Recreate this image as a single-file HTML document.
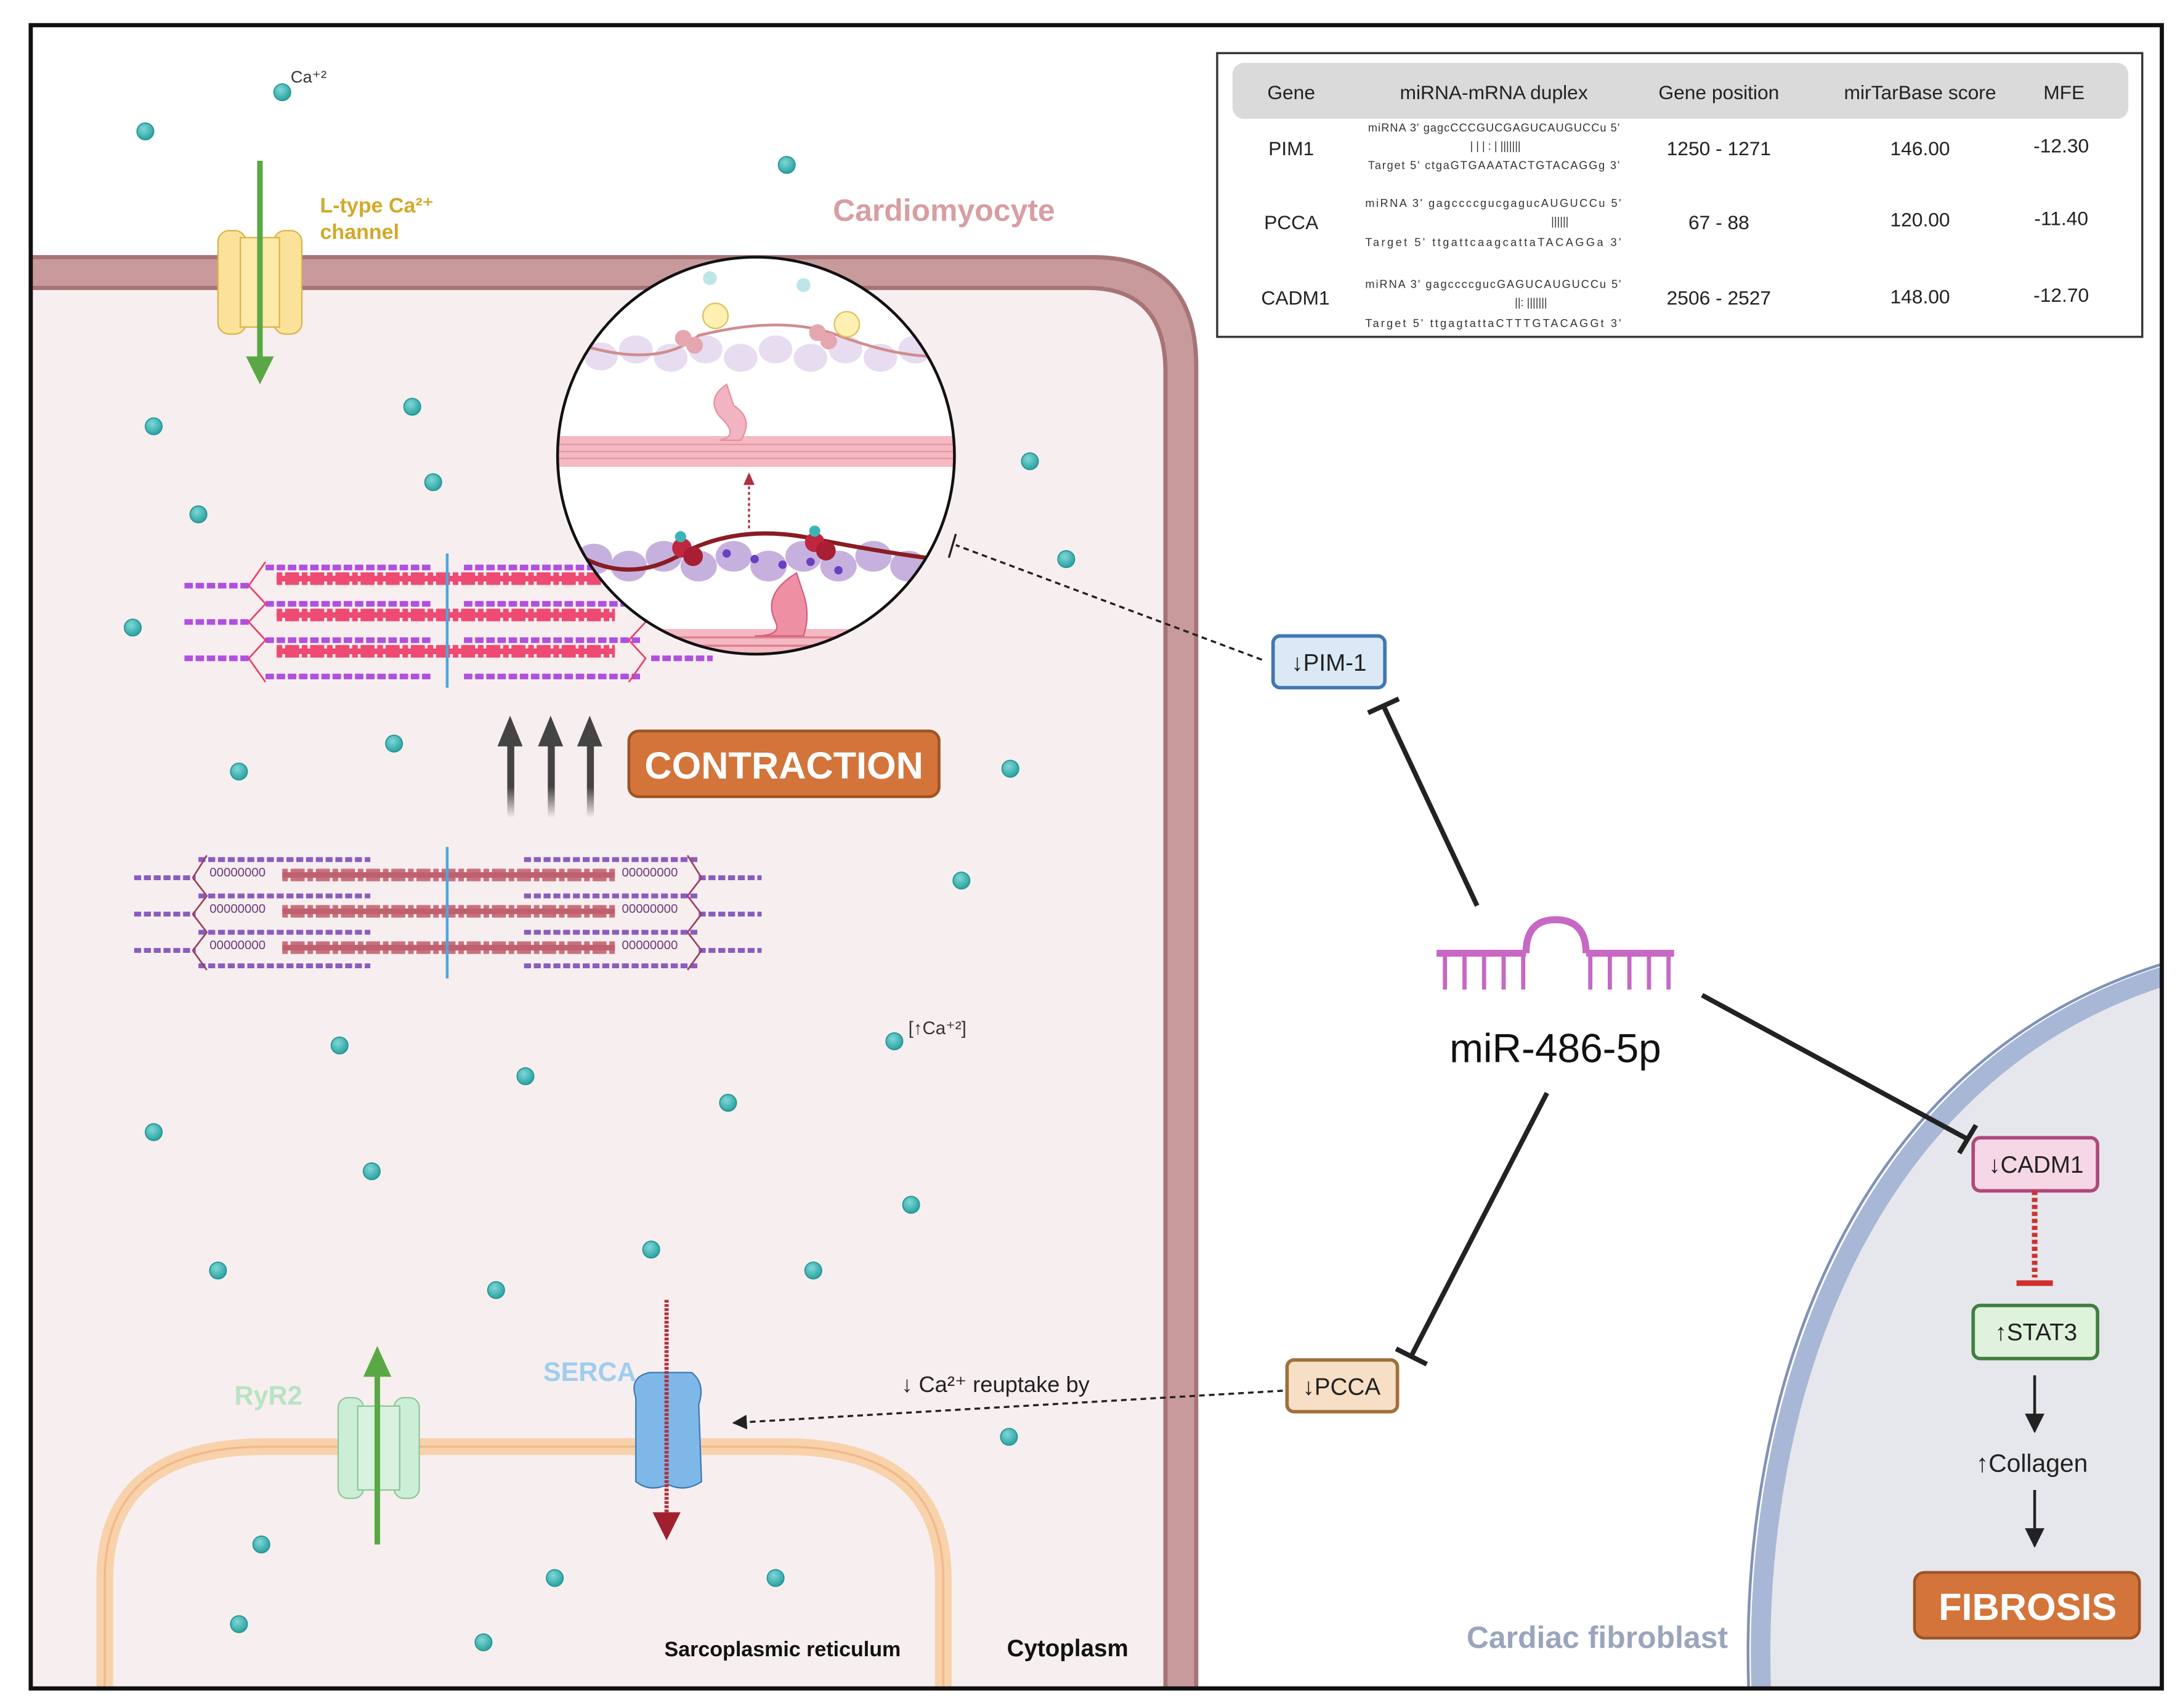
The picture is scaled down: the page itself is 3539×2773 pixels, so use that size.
<!DOCTYPE html>
<html><head><meta charset="utf-8"><style>
html,body{margin:0;padding:0;background:#fff}
svg{display:block}
text{font-family:"Liberation Sans",sans-serif}
</style></head><body>
<svg width="3539" height="2773" viewBox="0 0 1560 1222" preserveAspectRatio="none" xmlns="http://www.w3.org/2000/svg">
<defs>
<radialGradient id="dot" cx="40%" cy="35%" r="65%"><stop offset="0" stop-color="#7fd8d6"/><stop offset="1" stop-color="#2aa3a3"/></radialGradient>
<linearGradient id="arrG" x1="0" y1="1" x2="0" y2="0"><stop offset="0" stop-color="#444" stop-opacity="0"/><stop offset="0.4" stop-color="#444"/><stop offset="1" stop-color="#444"/></linearGradient>
<clipPath id="frame"><rect x="22" y="18" width="1525" height="1190"/></clipPath>
<clipPath id="circ"><circle cx="541" cy="326" r="142"/></clipPath>
<marker id="ah" viewBox="0 0 10 10" refX="9" refY="5" markerWidth="7" markerHeight="7" orient="auto"><path d="M0,0 L10,5 L0,10 z" fill="#222"/></marker>
</defs>
<rect width="1560" height="1222" fill="#fff"/>
<g clip-path="url(#frame)">
<path d="M0,195 H780 Q845,195 845,265 V1240 H0 Z" fill="#f7eeef" stroke="#c99a9c" stroke-width="22"/>
<path d="M0,206 H778 Q834,206 834,266 V1240" fill="none" stroke="#a77476" stroke-width="3"/>
<path d="M0,184 H782 Q856,184 856,262 V1240" fill="none" stroke="#a77476" stroke-width="3"/>
<path d="M75,1215 V1130 Q75,1035 190,1035 H560 Q675,1035 675,1130 V1215" fill="#f7eeef" stroke="#f8d2aa" stroke-width="12"/>
<path d="M75,1215 V1130 Q75,1035 190,1035 H560 Q675,1035 675,1130 V1215" fill="none" stroke="#f2b98a" stroke-width="1.5"/>
<path d="M1262,1240 C1245,1010 1330,760 1560,695 V1240 Z" fill="#e6e7ec" stroke="#a8b7d6" stroke-width="14"/>
<path d="M1253,1240 C1236,1005 1322,752 1560,686" fill="none" stroke="#8092b8" stroke-width="2"/>
</g>
<rect x="22" y="18" width="1525" height="1190" fill="none" stroke="#111" stroke-width="3"/>

<rect x="156" y="165" width="20" height="74" rx="8" fill="#fbe29a" stroke="#d9b54a"/>
<rect x="196" y="165" width="20" height="74" rx="8" fill="#fbe29a" stroke="#d9b54a"/>
<rect x="172" y="170" width="28" height="64" fill="#fde9a8" stroke="#d9b54a"/>
<line x1="186" y1="115" x2="186" y2="260" stroke="#5aa845" stroke-width="4"/>
<path d="M176,255 L196,255 L186,275 Z" fill="#5aa845"/>
<text x="229" y="152" font-size="15" font-weight="bold" fill="#d4a82a">L-type Ca²⁺</text>
<text x="229" y="171" font-size="15" font-weight="bold" fill="#d4a82a">channel</text>
<text x="208" y="59" font-size="12" fill="#333">Ca⁺²</text>
<text x="596" y="158" font-size="22" font-weight="bold" fill="#d79ea3">Cardiomyocyte</text>

<g>
<g stroke="#b04fe0" stroke-width="4" stroke-dasharray="6 2">
<line x1="190" y1="406" x2="310" y2="406"/><line x1="332" y1="406" x2="460" y2="406"/>
<line x1="190" y1="432" x2="310" y2="432"/><line x1="332" y1="432" x2="460" y2="432"/>
<line x1="190" y1="458" x2="310" y2="458"/><line x1="332" y1="458" x2="460" y2="458"/>
<line x1="190" y1="484" x2="310" y2="484"/><line x1="332" y1="484" x2="460" y2="484"/>
<line x1="132" y1="419" x2="178" y2="419"/><line x1="132" y1="445" x2="178" y2="445"/><line x1="132" y1="471" x2="178" y2="471"/>
<line x1="466" y1="471" x2="510" y2="471"/>
</g>
<path d="M190,402 L178,419 L190,432 L178,445 L190,458 L178,471 L190,488 M450,402 L462,419 L450,432 L462,445 L450,458 L462,471 L450,488" fill="none" stroke="#e8406a" stroke-width="1.2"/>
<g stroke="#ee4a72" stroke-width="9" stroke-dasharray="4 2 10 2"><line x1="198" y1="414" x2="440" y2="414"/><line x1="198" y1="440" x2="440" y2="440"/><line x1="198" y1="466" x2="440" y2="466"/></g>
<g stroke="#ee4a72" stroke-width="4"><line x1="198" y1="414" x2="440" y2="414"/><line x1="198" y1="440" x2="440" y2="440"/><line x1="198" y1="466" x2="440" y2="466"/></g>
<line x1="320" y1="396" x2="320" y2="492" stroke="#4aa8dc" stroke-width="2"/>
</g>

<g>
<g stroke="#8a5cc0" stroke-width="3.5" stroke-dasharray="5 2">
<line x1="142" y1="615" x2="265" y2="615"/><line x1="375" y1="615" x2="500" y2="615"/>
<line x1="142" y1="641" x2="265" y2="641"/><line x1="375" y1="641" x2="500" y2="641"/>
<line x1="142" y1="667" x2="265" y2="667"/><line x1="375" y1="667" x2="500" y2="667"/>
<line x1="142" y1="691" x2="265" y2="691"/><line x1="375" y1="691" x2="500" y2="691"/>
<line x1="96" y1="628" x2="140" y2="628"/><line x1="96" y1="654" x2="140" y2="654"/><line x1="96" y1="680" x2="140" y2="680"/>
<line x1="500" y1="628" x2="545" y2="628"/><line x1="500" y1="654" x2="545" y2="654"/><line x1="500" y1="680" x2="545" y2="680"/>
</g>
<path d="M148,612 L138,628 L148,641 L138,654 L148,667 L138,680 L148,694 M492,612 L502,628 L492,641 L502,654 L492,667 L502,680 L492,694" fill="none" stroke="#9b4060" stroke-width="1.2"/>
<g font-size="9" fill="#6a3b7a" font-family="Liberation Mono,monospace"><text x="150" y="627">00000000</text><text x="150" y="653">00000000</text><text x="150" y="679">00000000</text><text x="445" y="627">00000000</text><text x="445" y="653">00000000</text><text x="445" y="679">00000000</text></g>
<g stroke="#c9717e" stroke-width="9" stroke-dasharray="4 2 10 2"><line x1="202" y1="626" x2="440" y2="626"/><line x1="202" y1="652" x2="440" y2="652"/><line x1="202" y1="678" x2="440" y2="678"/></g>
<g stroke="#c0606f" stroke-width="4"><line x1="202" y1="626" x2="440" y2="626"/><line x1="202" y1="652" x2="440" y2="652"/><line x1="202" y1="678" x2="440" y2="678"/></g>
<line x1="320" y1="606" x2="320" y2="700" stroke="#4aa8dc" stroke-width="2"/>
</g>

<g>
<rect x="363" y="530" width="5" height="55" fill="url(#arrG)"/><path d="M356,534 L365,512 L374,534Z" fill="#444"/>
<rect x="392" y="530" width="5" height="55" fill="url(#arrG)"/><path d="M385,534 L394,512 L403,534Z" fill="#444"/>
<rect x="420" y="530" width="5" height="55" fill="url(#arrG)"/><path d="M413,534 L422,512 L431,534Z" fill="#444"/>
</g>
<rect x="450" y="523" width="222" height="47" rx="7" fill="#d3743a" stroke="#9c5324" stroke-width="2"/>
<text x="561" y="557" font-size="27" font-weight="bold" fill="#fff" text-anchor="middle">CONTRACTION</text>

<circle cx="541" cy="326" r="142" fill="#fff"/>
<g clip-path="url(#circ)">
<rect x="395" y="312" width="300" height="22" fill="#f4b9c2"/>
<g stroke="#e796a3" stroke-width="1"><line x1="395" y1="318" x2="700" y2="318"/><line x1="395" y1="323" x2="700" y2="323"/><line x1="395" y1="328" x2="700" y2="328"/></g>
<rect x="395" y="450" width="300" height="30" fill="#f4b9c2"/>
<g stroke="#e17f92" stroke-width="1.5"><line x1="395" y1="456" x2="700" y2="456"/><line x1="395" y1="462" x2="700" y2="462"/><line x1="395" y1="468" x2="700" y2="468"/></g>
<g fill="#e5d9ef" opacity="0.9">
<ellipse cx="430" cy="255" rx="12" ry="10"/><ellipse cx="455" cy="250" rx="12" ry="10"/><ellipse cx="480" cy="256" rx="12" ry="10"/><ellipse cx="505" cy="250" rx="12" ry="10"/><ellipse cx="530" cy="256" rx="12" ry="10"/><ellipse cx="555" cy="250" rx="12" ry="10"/><ellipse cx="580" cy="256" rx="12" ry="10"/><ellipse cx="605" cy="250" rx="12" ry="10"/><ellipse cx="630" cy="256" rx="12" ry="10"/><ellipse cx="655" cy="250" rx="12" ry="10"/>
</g>
<g fill="#c6b1de">
<ellipse cx="425" cy="400" rx="13" ry="11"/><ellipse cx="450" cy="405" rx="13" ry="11"/><ellipse cx="475" cy="398" rx="13" ry="11"/><ellipse cx="500" cy="405" rx="13" ry="11"/><ellipse cx="525" cy="398" rx="13" ry="11"/><ellipse cx="550" cy="405" rx="13" ry="11"/><ellipse cx="575" cy="398" rx="13" ry="11"/><ellipse cx="600" cy="405" rx="13" ry="11"/><ellipse cx="625" cy="398" rx="13" ry="11"/><ellipse cx="650" cy="405" rx="13" ry="11"/>
</g>
<g fill="#6a3fc0"><circle cx="520" cy="396" r="3"/><circle cx="540" cy="400" r="3"/><circle cx="560" cy="404" r="3"/><circle cx="580" cy="402" r="3"/><circle cx="600" cy="408" r="3"/></g>
<path d="M410,245 Q470,265 500,240 Q560,225 600,240 Q640,255 670,255" fill="none" stroke="#d08c90" stroke-width="2"/>
<path d="M410,395 Q450,420 490,395 Q530,375 580,385 Q630,395 670,400" fill="none" stroke="#8b1c23" stroke-width="3"/>
<path d="M520,275 Q505,285 515,298 Q530,312 515,315 L530,315 Q540,300 525,290 Z" fill="#f2b4c0" stroke="#e790a2"/>
<path d="M570,410 Q545,425 555,445 Q560,455 540,455 L575,455 Q580,440 575,425 Z" fill="#ef8fa3" stroke="#d6607c"/>
<circle cx="488" cy="392" r="7" fill="#c0263e"/><circle cx="496" cy="398" r="7" fill="#a81e33"/>
<circle cx="583" cy="388" r="7" fill="#c0263e"/><circle cx="591" cy="394" r="7" fill="#a81e33"/>
<circle cx="487" cy="384" r="4" fill="#3ab5b5"/><circle cx="583" cy="380" r="4" fill="#3ab5b5"/>
<circle cx="489" cy="242" r="6" fill="#e6a6b0"/><circle cx="497" cy="247" r="6" fill="#e6a6b0"/>
<circle cx="585" cy="238" r="6" fill="#e6a6b0"/><circle cx="593" cy="244" r="6" fill="#e6a6b0"/>
<circle cx="512" cy="226" r="9" fill="#fdf0b0" stroke="#e0c060"/><circle cx="606" cy="232" r="9" fill="#fdf0b0" stroke="#e0c060"/>
<circle cx="508" cy="199" r="5" fill="#bfe6e6"/><circle cx="575" cy="204" r="5" fill="#bfe6e6"/>
<line x1="536" y1="378" x2="536" y2="345" stroke="#b03040" stroke-width="1.5" stroke-dasharray="2 2"/>
<path d="M532,347 L536,338 L540,347Z" fill="#b03040"/>
</g>
<circle cx="541" cy="326" r="142" fill="none" stroke="#111" stroke-width="2"/>

<rect x="871" y="38" width="662" height="203" fill="#fff" stroke="#333" stroke-width="1.5"/>
<rect x="882" y="45" width="641" height="40" rx="8" fill="#dadada"/>
<g font-size="14" fill="#222" text-anchor="middle">
<text x="924" y="71">Gene</text><text x="1069" y="71">miRNA-mRNA duplex</text><text x="1230" y="71">Gene position</text><text x="1374" y="71">mirTarBase score</text><text x="1477" y="71">MFE</text>
<text x="924" y="111">PIM1</text><text x="1230" y="111">1250 - 1271</text><text x="1374" y="111">146.00</text><text x="1475" y="109">-12.30</text>
<text x="924" y="164">PCCA</text><text x="1230" y="164">67 - 88</text><text x="1374" y="162">120.00</text><text x="1475" y="161">-11.40</text>
<text x="927" y="218">CADM1</text><text x="1230" y="218">2506 - 2527</text><text x="1374" y="217">148.00</text><text x="1475" y="216">-12.70</text>
</g>
<g font-size="8" fill="#333" font-family="Liberation Mono,monospace">
<text x="979" y="94" textLength="180">miRNA  3' gagcCCCGUCGAGUCAUGUCCu 5'</text><text x="1052" y="107">| | | : | |||||||</text><text x="979" y="121" textLength="180">Target 5' ctgaGTGAAATACTGTACAGGg 3'</text>
<text x="977" y="148" textLength="183">miRNA  3' gagccccgucgagucAUGUCCu 5'</text><text x="1110" y="161">||||||</text><text x="977" y="176" textLength="183">Target 5' ttgattcaagcattaTACAGGa 3'</text>
<text x="977" y="206" textLength="183">miRNA  3' gagccccgucGAGUCAUGUCCu 5'</text><text x="1084" y="219">||: |||||||</text><text x="977" y="234" textLength="183">Target 5' ttgagtattaCTTTGTACAGGt 3'</text>
</g>

<g stroke="#c668c4" stroke-width="5" fill="none">
<line x1="1028" y1="682" x2="1092" y2="682"/><line x1="1135" y1="682" x2="1198" y2="682"/>
<path d="M1092,682 Q1092,658 1113,658 Q1135,658 1135,682"/>
</g>
<g stroke="#c668c4" stroke-width="3"><line x1="1034" y1="682" x2="1034" y2="708"/><line x1="1048" y1="682" x2="1048" y2="708"/><line x1="1062" y1="682" x2="1062" y2="708"/><line x1="1076" y1="682" x2="1076" y2="708"/><line x1="1090" y1="682" x2="1090" y2="708"/><line x1="1138" y1="682" x2="1138" y2="708"/><line x1="1152" y1="682" x2="1152" y2="708"/><line x1="1166" y1="682" x2="1166" y2="708"/><line x1="1180" y1="682" x2="1180" y2="708"/><line x1="1194" y1="682" x2="1194" y2="708"/></g>
<text x="1113" y="760" font-size="29" fill="#111" text-anchor="middle">miR-486-5p</text>

<g stroke="#222" stroke-width="3.5">
<line x1="1057" y1="648" x2="990" y2="505"/><line x1="979" y1="510" x2="1001" y2="500"/>
<line x1="1107" y1="782" x2="1010" y2="970"/><line x1="999" y1="965" x2="1021" y2="976"/>
<line x1="1218" y1="712" x2="1408" y2="815"/><line x1="1402" y1="825" x2="1414" y2="805"/>
</g>
<line x1="903" y1="472" x2="684" y2="390" stroke="#222" stroke-width="1.5" stroke-dasharray="4 3"/>
<line x1="684" y1="382" x2="679" y2="399" stroke="#222" stroke-width="1.5"/>
<line x1="918" y1="995" x2="525" y2="1018" stroke="#222" stroke-width="1.5" stroke-dasharray="4 3" marker-end="url(#ah)"/>
<text x="645" y="996" font-size="16" fill="#222">↓ Ca²⁺ reuptake by</text>

<rect x="911" y="455" width="80" height="37" rx="5" fill="#dbe9f6" stroke="#4078b0" stroke-width="2.5"/>
<text x="951" y="480" font-size="17" fill="#222" text-anchor="middle">↓PIM-1</text>
<rect x="921" y="973" width="79" height="37" rx="5" fill="#f6dfc4" stroke="#a0703a" stroke-width="2.5"/>
<text x="960" y="998" font-size="17" fill="#222" text-anchor="middle">↓PCCA</text>
<rect x="1412" y="814" width="89" height="38" rx="5" fill="#f6d7e6" stroke="#b0487a" stroke-width="2.5"/>
<text x="1457" y="839" font-size="17" fill="#222" text-anchor="middle">↓CADM1</text>
<line x1="1456" y1="852" x2="1456" y2="914" stroke="#d03030" stroke-width="4" stroke-dasharray="3 2"/>
<line x1="1443" y1="918" x2="1469" y2="918" stroke="#d03030" stroke-width="4"/>
<rect x="1412" y="934" width="89" height="38" rx="5" fill="#dff2dc" stroke="#3f8040" stroke-width="2.5"/>
<text x="1457" y="959" font-size="17" fill="#222" text-anchor="middle">↑STAT3</text>
<line x1="1456" y1="984" x2="1456" y2="1024" stroke="#222" stroke-width="2" marker-end="url(#ah)"/>
<text x="1454" y="1053" font-size="18" fill="#222" text-anchor="middle">↑Collagen</text>
<line x1="1456" y1="1066" x2="1456" y2="1106" stroke="#222" stroke-width="2" marker-end="url(#ah)"/>
<rect x="1370" y="1125" width="161" height="47" rx="7" fill="#d3743a" stroke="#9c5324" stroke-width="2"/>
<text x="1451" y="1159" font-size="27" font-weight="bold" fill="#fff" text-anchor="middle">FIBROSIS</text>
<text x="1143" y="1179" font-size="22" font-weight="bold" fill="#9aa5bd" text-anchor="middle">Cardiac fibroblast</text>

<rect x="242" y="1000" width="18" height="72" rx="7" fill="#cdeed6" stroke="#8cc89c"/>
<rect x="282" y="1000" width="18" height="72" rx="7" fill="#cdeed6" stroke="#8cc89c"/>
<rect x="256" y="1006" width="30" height="60" fill="#d8f2df" stroke="#8cc89c"/>
<line x1="270" y1="1105" x2="270" y2="985" stroke="#5aa845" stroke-width="4"/>
<path d="M260,985 L280,985 L270,963 Z" fill="#5aa845"/>
<text x="192" y="1005" font-size="19" font-weight="bold" fill="#b8e3c3" text-anchor="middle">RyR2</text>
<path d="M455,1000 Q450,985 465,982 L495,982 Q505,990 500,1005 L502,1060 Q490,1068 478,1062 Q465,1068 455,1060 Z" fill="#7db8e8" stroke="#3d7bb8"/>
<line x1="477" y1="930" x2="477" y2="1085" stroke="#b03040" stroke-width="3" stroke-dasharray="2 1"/>
<path d="M467,1082 L487,1082 L477,1102 Z" fill="#a02030"/>
<text x="422" y="988" font-size="19" font-weight="bold" fill="#9fcdee" text-anchor="middle">SERCA</text>
<text x="560" y="1185" font-size="15" font-weight="bold" fill="#111" text-anchor="middle">Sarcoplasmic reticulum</text>
<text x="764" y="1185" font-size="17" font-weight="bold" fill="#111" text-anchor="middle">Cytoplasm</text>
<text x="650" y="740" font-size="13" fill="#333">[↑Ca⁺²]</text>

<g fill="url(#dot)" stroke="#259595" stroke-width="0.8">
<circle cx="202" cy="66" r="6"/><circle cx="104" cy="94" r="6"/><circle cx="563" cy="118" r="6"/>
<circle cx="110" cy="305" r="6"/><circle cx="295" cy="291" r="6"/><circle cx="310" cy="345" r="6"/><circle cx="142" cy="368" r="6"/><circle cx="737" cy="330" r="6"/><circle cx="763" cy="400" r="6"/><circle cx="95" cy="449" r="6"/>
<circle cx="171" cy="552" r="6"/><circle cx="282" cy="532" r="6"/><circle cx="723" cy="550" r="6"/><circle cx="688" cy="630" r="6"/>
<circle cx="243" cy="748" r="6"/><circle cx="376" cy="770" r="6"/><circle cx="640" cy="745" r="6"/><circle cx="521" cy="789" r="6"/><circle cx="110" cy="810" r="6"/><circle cx="266" cy="838" r="6"/><circle cx="652" cy="862" r="6"/>
<circle cx="156" cy="909" r="6"/><circle cx="355" cy="923" r="6"/><circle cx="466" cy="894" r="6"/><circle cx="582" cy="909" r="6"/><circle cx="722" cy="1028" r="6"/>
<circle cx="187" cy="1105" r="6"/><circle cx="397" cy="1129" r="6"/><circle cx="555" cy="1129" r="6"/><circle cx="171" cy="1162" r="6"/><circle cx="346" cy="1175" r="6"/>
</g>
</svg>
</body></html>
